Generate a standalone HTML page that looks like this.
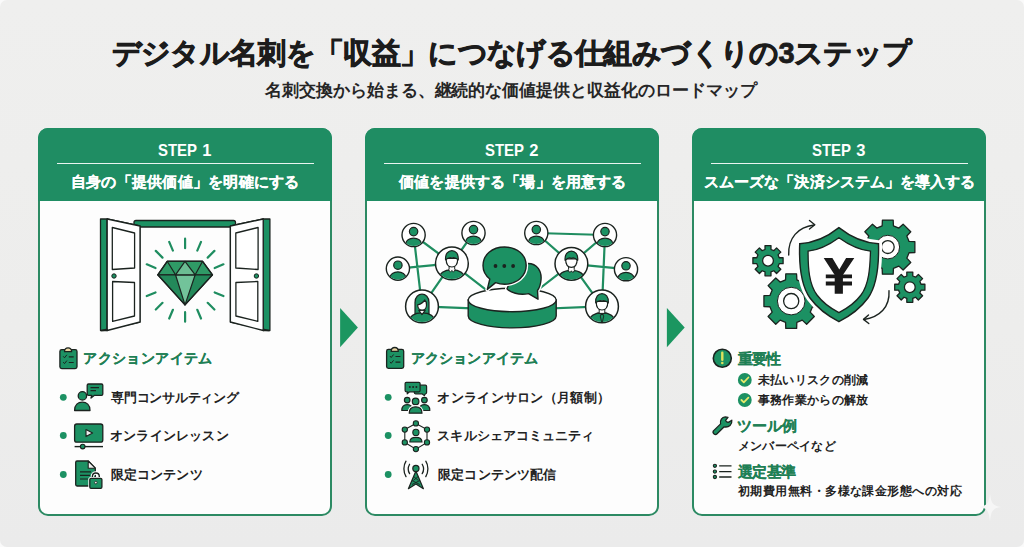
<!DOCTYPE html>
<html><head><meta charset="utf-8"><style>
html{background:#fafafa;}html,body{margin:0;padding:0;}
body{width:1024px;height:547px;position:relative;overflow:hidden;border-radius:7px;background:linear-gradient(180deg,#efefee 0%,#ededec 60%,#ebebeb 100%);font-family:"Liberation Sans",sans-serif;}
.t{position:absolute;white-space:nowrap;}
.card{position:absolute;top:128px;width:294px;height:388px;box-sizing:border-box;border:2.3px solid #2c8a63;border-radius:10px;background:#fdfdfd;}
.hdr{position:absolute;top:128px;width:294px;height:73px;background:#1f8d63;border-radius:10px 10px 0 0;}
.div{position:absolute;top:163px;height:1.4px;background:rgba(255,255,255,0.9);}
svg{position:absolute;left:0;top:0;}
</style></head><body>
<div class="card" style="left:38px"></div><div class="hdr" style="left:38px"></div><div class="div" style="left:57px;width:257px"></div>
<div class="card" style="left:365px"></div><div class="hdr" style="left:365px"></div><div class="div" style="left:384px;width:257px"></div>
<div class="card" style="left:692px"></div><div class="hdr" style="left:692px"></div><div class="div" style="left:711px;width:257px"></div>

<svg width="1024" height="547" viewBox="0 0 1024 547">
<g stroke="#1b231f" stroke-width="1.3" stroke-linejoin="round">
<rect x="134" y="220.5" width="101.5" height="6.5" rx="2" fill="#1c9163"/>
<polygon points="100.5,219 107.2,219 107.2,330.5 100.5,330.5" fill="#1c9163"/>
<polygon points="107.2,219 140,226 140,322 101.5,330.5 107.2,330" fill="#fff"/>
<polygon points="107.2,219 140,226 140,322 107.2,330.5" fill="#fff"/>
<polygon points="112.3,227.5 134.6,233 134.6,268 112.3,269.5" fill="#fff"/>
<polygon points="112.6,281.5 134.5,282.5 134.5,316 112.6,321.3" fill="#fff"/>
<circle cx="114" cy="276" r="2.2" fill="#1c9163" stroke-width="1"/>
<polygon points="269.9,219 263.2,219 263.2,330.5 269.9,330.5" fill="#1c9163"/>
<polygon points="263.2,219 230.39999999999998,226 230.39999999999998,322 268.9,330.5 263.2,330" fill="#fff"/>
<polygon points="263.2,219 230.39999999999998,226 230.39999999999998,322 263.2,330.5" fill="#fff"/>
<polygon points="258.09999999999997,227.5 235.79999999999998,233 235.79999999999998,268 258.09999999999997,269.5" fill="#fff"/>
<polygon points="257.79999999999995,281.5 235.89999999999998,282.5 235.89999999999998,316 257.79999999999995,321.3" fill="#fff"/>
<circle cx="256.4" cy="276" r="2.2" fill="#1c9163" stroke-width="1"/>
</g>
<path d="M185.1 248.2L185.1 238.7M197.3 250.6L201.0 241.9M207.7 257.6L214.4 250.9M214.7 268.0L223.4 264.3M214.7 292.4L223.4 296.1M207.7 302.8L214.4 309.5M197.3 309.8L201.0 318.5M185.1 312.2L185.1 321.7M172.9 309.8L169.2 318.5M162.5 302.8L155.8 309.5M155.5 292.4L146.8 296.1M155.5 268.0L146.8 264.3M162.5 257.6L155.8 250.9M172.9 250.6L169.2 241.9" stroke="#1f8d60" stroke-width="2.2" stroke-linecap="round"/>
<g stroke="#1b231f" stroke-width="1.2" stroke-linejoin="round">
<polygon points="167.2,261.3 202.6,261.3 212.5,274.8 157.8,274.8" fill="#2f9a66"/>
<polygon points="157.8,274.8 212.5,274.8 185,304.9" fill="#23895a"/>
<polygon points="175.5,274.8 195.2,274.8 185,304.9" fill="#72c39a"/>
<polygon points="185,261.3 195.2,274.8 175.5,274.8" fill="#6cbd93"/>
<path d="M167.2 261.3L175.5 274.8M202.6 261.3L195.2 274.8" fill="none"/>
<polygon points="167.2,261.3 202.6,261.3 212.5,274.8 185,304.9 157.8,274.8" fill="none" stroke-width="1.4"/>
</g>
<path d="M413.6 235L451.9 263.4M413.6 235L422 306.4M397.9 268.6L451.9 263.4M473.5 233L451.9 263.4M451.9 263.4L422 306.4M451.9 263.4L512 310M422 306.4L512 310M536.3 233L605 235M536.3 233L571.4 263.8M605 235L571.4 263.8M605 235L602 306.4M571.4 263.8L626 269.2M571.4 263.8L602 306.4M571.4 263.8L512 310M602 306.4L512 310" stroke="#1f8d60" stroke-width="2.2"/>
<g stroke="#1b231f" stroke-width="1.4">
<path d="M468.2 300 L468.2 316 A44 11.9 0 0 0 556.2 316 L556.2 300 Z" fill="#1c9163"/>
<ellipse cx="512.2" cy="300" rx="44" ry="11.7" fill="#fff"/>
</g>
<g stroke="#1b231f" stroke-width="1.4" stroke-linejoin="round">
<path d="M528 263.5 C537 263.5 542 271 541 280 C540.5 285 539.5 288 537.5 290.5 L538 299.2 L528.5 293.6 C519 295.5 510 292.5 507 288.7 C511 280 517 263.5 528 263.5Z" fill="#1c9163" stroke="#fff" stroke-width="4"/>
<path d="M528 263.5 C537 263.5 542 271 541 280 C540.5 285 539.5 288 537.5 290.5 L538 299.2 L528.5 293.6 C519 295.5 510 292.5 507 288.7 C511 280 517 263.5 528 263.5Z" fill="#1c9163"/>
<path d="M504.6 247 C517 247 526.2 255 526.2 265.6 C526.2 276 517 284.2 504.6 284.2 C501.4 284.2 498.4 283.6 495.6 282.6 L487.3 289.4 L489.8 279 C485.4 275.6 483 270.8 483 265.6 C483 255 492 247 504.6 247Z" fill="#1c9163" stroke="#fff" stroke-width="4"/>
<path d="M504.6 247 C517 247 526.2 255 526.2 265.6 C526.2 276 517 284.2 504.6 284.2 C501.4 284.2 498.4 283.6 495.6 282.6 L487.3 289.4 L489.8 279 C485.4 275.6 483 270.8 483 265.6 C483 255 492 247 504.6 247Z" fill="#1c9163"/>
</g>
<g fill="#1b231f"><circle cx="495.5" cy="266" r="1.9"/><circle cx="504.3" cy="266" r="1.9"/><circle cx="513.1" cy="266" r="1.9"/></g>
<circle cx="413.6" cy="235" r="11.6" fill="#fff" stroke="#1b231f" stroke-width="1.4"/><clipPath id="c413"><circle cx="413.6" cy="235" r="10.9"/></clipPath><g clip-path="url(#c413)" stroke="#1b231f" stroke-width="1.2"><ellipse cx="413.6" cy="243.8" rx="7.8" ry="5.6" fill="#1c9163"/><circle cx="413.6" cy="231.6" r="4.2" fill="#1c9163"/></g>
<circle cx="473.5" cy="233" r="11.6" fill="#fff" stroke="#1b231f" stroke-width="1.4"/><clipPath id="c473"><circle cx="473.5" cy="233" r="10.9"/></clipPath><g clip-path="url(#c473)" stroke="#1b231f" stroke-width="1.2"><ellipse cx="473.5" cy="241.8" rx="7.8" ry="5.6" fill="#1c9163"/><circle cx="473.5" cy="229.6" r="4.2" fill="#1c9163"/></g>
<circle cx="397.9" cy="268.6" r="11.6" fill="#fff" stroke="#1b231f" stroke-width="1.4"/><clipPath id="c397"><circle cx="397.9" cy="268.6" r="10.9"/></clipPath><g clip-path="url(#c397)" stroke="#1b231f" stroke-width="1.2"><ellipse cx="397.9" cy="277.40000000000003" rx="7.8" ry="5.6" fill="#1c9163"/><circle cx="397.9" cy="265.20000000000005" r="4.2" fill="#1c9163"/></g>
<circle cx="536.3" cy="233" r="11.6" fill="#fff" stroke="#1b231f" stroke-width="1.4"/><clipPath id="c536"><circle cx="536.3" cy="233" r="10.9"/></clipPath><g clip-path="url(#c536)" stroke="#1b231f" stroke-width="1.2"><ellipse cx="536.3" cy="241.8" rx="7.8" ry="5.6" fill="#1c9163"/><circle cx="536.3" cy="229.6" r="4.2" fill="#1c9163"/></g>
<circle cx="605" cy="235" r="11.6" fill="#fff" stroke="#1b231f" stroke-width="1.4"/><clipPath id="c605"><circle cx="605" cy="235" r="10.9"/></clipPath><g clip-path="url(#c605)" stroke="#1b231f" stroke-width="1.2"><ellipse cx="605" cy="243.8" rx="7.8" ry="5.6" fill="#1c9163"/><circle cx="605" cy="231.6" r="4.2" fill="#1c9163"/></g>
<circle cx="626" cy="269.2" r="11.6" fill="#fff" stroke="#1b231f" stroke-width="1.4"/><clipPath id="c626"><circle cx="626" cy="269.2" r="10.9"/></clipPath><g clip-path="url(#c626)" stroke="#1b231f" stroke-width="1.2"><ellipse cx="626" cy="278.0" rx="7.8" ry="5.6" fill="#1c9163"/><circle cx="626" cy="265.8" r="4.2" fill="#1c9163"/></g>
<circle cx="451.9" cy="263.4" r="16.4" fill="#fff" stroke="#1b231f" stroke-width="1.5"/><clipPath id="c451"><circle cx="451.9" cy="263.4" r="15.7"/></clipPath><g clip-path="url(#c451)" stroke="#1b231f" stroke-width="1.2" stroke-linejoin="round"><path d="M437.9 280.4 C438.9 272.4 444.9 269.9 451.9 269.9 C458.9 269.9 464.9 272.4 465.9 280.4 Z" fill="#1c9163"/><rect x="449.09999999999997" y="265.9" width="5.6" height="4.5" fill="#fff" stroke-width="1"/><path d="M446.09999999999997 258.4 C446.09999999999997 264.9 448.29999999999995 267.0 451.9 267.0 C455.5 267.0 457.7 264.9 457.7 258.4 Z" fill="#fff"/><path d="M445.59999999999997 259.9 C444.29999999999995 247.59999999999997 459.5 247.59999999999997 458.2 259.9 C455.9 257.59999999999997 453.4 257.2 451.9 258.0 C450.4 257.2 447.9 257.59999999999997 445.59999999999997 259.9 Z" fill="#1c9163"/><path d="M448.4 269.4 L450.4 272.2 L451.9 270.4 L453.4 272.2 L455.4 269.4" fill="#fff" stroke-width="0.9"/></g>
<circle cx="422" cy="306.4" r="16.4" fill="#fff" stroke="#1b231f" stroke-width="1.5"/><clipPath id="c422"><circle cx="422" cy="306.4" r="15.7"/></clipPath><g clip-path="url(#c422)" stroke="#1b231f" stroke-width="1.2" stroke-linejoin="round"><path d="M415 314.4 L415 302.4 C415 291.4 429 291.4 429 302.4 L429 314.4 Z" fill="#1c9163"/><path d="M408 323.4 C409 315.4 415 312.9 422 312.9 C429 312.9 435 315.4 436 323.4 Z" fill="#1c9163"/><path d="M418.8 310.4 L422 314.59999999999997 L425.2 310.4Z" fill="#fff"/><path d="M417.7 304.9 C417.7 311.9 426.5 311.9 426.5 304.9 C426.5 302.4 425.8 300.59999999999997 424.8 299.9 C423.2 302.79999999999995 420.2 304.2 417.7 304.9Z" fill="#fff"/></g>
<circle cx="571.4" cy="263.8" r="16.4" fill="#fff" stroke="#1b231f" stroke-width="1.5"/><clipPath id="c571"><circle cx="571.4" cy="263.8" r="15.7"/></clipPath><g clip-path="url(#c571)" stroke="#1b231f" stroke-width="1.2" stroke-linejoin="round"><path d="M557.4 280.8 C558.4 272.8 564.4 270.3 571.4 270.3 C578.4 270.3 584.4 272.8 585.4 280.8 Z" fill="#1c9163"/><rect x="568.6" y="266.3" width="5.6" height="4.5" fill="#fff" stroke-width="1"/><path d="M565.6 258.8 C565.6 265.3 567.8 267.40000000000003 571.4 267.40000000000003 C575.0 267.40000000000003 577.1999999999999 265.3 577.1999999999999 258.8 Z" fill="#fff"/><path d="M565.1 260.3 C563.8 248.0 579.0 248.0 577.6999999999999 260.3 C575.4 258.0 572.9 257.6 571.4 258.40000000000003 C569.9 257.6 567.4 258.0 565.1 260.3 Z" fill="#1c9163"/><path d="M567.9 269.8 L569.9 272.6 L571.4 270.8 L572.9 272.6 L574.9 269.8" fill="#fff" stroke-width="0.9"/></g>
<circle cx="602" cy="306.4" r="16.4" fill="#fff" stroke="#1b231f" stroke-width="1.5"/><clipPath id="c602"><circle cx="602" cy="306.4" r="15.7"/></clipPath><g clip-path="url(#c602)" stroke="#1b231f" stroke-width="1.2" stroke-linejoin="round"><path d="M588 323.4 C589 315.4 595 312.9 602 312.9 C609 312.9 615 315.4 616 323.4 Z" fill="#1c9163"/><rect x="599.2" y="308.9" width="5.6" height="4.5" fill="#fff" stroke-width="1"/><path d="M596.2 301.4 C596.2 307.9 598.4 310.0 602 310.0 C605.6 310.0 607.8 307.9 607.8 301.4 Z" fill="#fff"/><path d="M595.7 302.9 C594.4 290.59999999999997 609.6 290.59999999999997 608.3 302.9 C606 300.59999999999997 603.5 300.2 602 301.0 C600.5 300.2 598 300.59999999999997 595.7 302.9 Z" fill="#1c9163"/><path d="M602 313.9 L600.2 315.9 L602 323.4 L603.8 315.9Z" fill="#1c9163" stroke-width="0.9"/><path d="M597.5 312.4 L602 314.9 L606.5 312.4" fill="none" stroke-width="0.9"/></g>
<g stroke="#1b231f" stroke-width="1.3" stroke-linejoin="round">
<path d="M779.21 257.73 L783.10 257.70 L783.10 263.70 L779.21 263.67 L778.03 266.53 L780.80 269.26 L776.56 273.50 L773.83 270.73 L770.97 271.91 L771.00 275.80 L765.00 275.80 L765.03 271.91 L762.17 270.73 L759.44 273.50 L755.20 269.26 L757.97 266.53 L756.79 263.67 L752.90 263.70 L752.90 257.70 L756.79 257.73 L757.97 254.87 L755.20 252.14 L759.44 247.90 L762.17 250.67 L765.03 249.49 L765.00 245.60 L771.00 245.60 L770.97 249.49 L773.83 250.67 L776.56 247.90 L780.80 252.14 L778.03 254.87Z" fill="#1c9163"/><circle cx="768" cy="260.7" r="5.4" fill="#fff"/>
<path d="M921.01 284.23 L924.90 284.20 L924.90 290.20 L921.01 290.17 L919.83 293.03 L922.60 295.76 L918.36 300.00 L915.63 297.23 L912.77 298.41 L912.80 302.30 L906.80 302.30 L906.83 298.41 L903.97 297.23 L901.24 300.00 L897.00 295.76 L899.77 293.03 L898.59 290.17 L894.70 290.20 L894.70 284.20 L898.59 284.23 L899.77 281.37 L897.00 278.64 L901.24 274.40 L903.97 277.17 L906.83 275.99 L906.80 272.10 L912.80 272.10 L912.77 275.99 L915.63 277.17 L918.36 274.40 L922.60 278.64 L919.83 281.37Z" fill="#1c9163"/><circle cx="909.8" cy="287.2" r="5.4" fill="#fff"/>
<path d="M812.47 295.46 L818.47 295.68 L818.47 306.52 L812.47 306.74 L810.22 312.15 L814.31 316.54 L806.64 324.21 L802.25 320.12 L796.84 322.37 L796.62 328.37 L785.78 328.37 L785.56 322.37 L780.15 320.12 L775.76 324.21 L768.09 316.54 L772.18 312.15 L769.93 306.74 L763.93 306.52 L763.93 295.68 L769.93 295.46 L772.18 290.05 L768.09 285.66 L775.76 277.99 L780.15 282.08 L785.56 279.83 L785.78 273.83 L796.62 273.83 L796.84 279.83 L802.25 282.08 L806.64 277.99 L814.31 285.66 L810.22 290.05Z" fill="#1c9163"/><circle cx="791.2" cy="301.1" r="13.8" fill="#fff" stroke-width="1"/><circle cx="791.2" cy="301.1" r="7.6" fill="#fff"/>
<path d="M909.07 241.46 L914.87 241.72 L914.87 252.48 L909.07 252.74 L906.82 258.15 L910.75 262.43 L903.13 270.05 L898.85 266.12 L893.44 268.37 L893.18 274.17 L882.42 274.17 L882.16 268.37 L876.75 266.12 L872.47 270.05 L864.85 262.43 L868.78 258.15 L866.53 252.74 L860.73 252.48 L860.73 241.72 L866.53 241.46 L868.78 236.05 L864.85 231.77 L872.47 224.15 L876.75 228.08 L882.16 225.83 L882.42 220.03 L893.18 220.03 L893.44 225.83 L898.85 228.08 L903.13 224.15 L910.75 231.77 L906.82 236.05Z" fill="#1c9163"/><circle cx="887.8" cy="247.1" r="11.8" fill="#fff" stroke-width="1"/><circle cx="887.8" cy="247.1" r="6.4" fill="#fff"/>
</g>
<path d="M838.9 227.6 C826 238 812 243 799.7 243.7 C799 262 800 284 810 298 C818 309 828 316 838.9 321.6 C850 316 860 309 868 298 C878 284 879 262 878.5 243.7 C866 243 852 238 838.9 227.6Z" fill="#fff" stroke="#fff" stroke-width="7"/>
<path d="M838.9 227.6 C826 238 812 243 799.7 243.7 C799 262 800 284 810 298 C818 309 828 316 838.9 321.6 C850 316 860 309 868 298 C878 284 879 262 878.5 243.7 C866 243 852 238 838.9 227.6Z" fill="#1c9163" stroke="#1b231f" stroke-width="1.4"/>
<path d="M838.9 237.7 C829 245 818 250 808.1 251.2 C808 268 809 284 817 295 C823 303 830 308 838.9 312.6 C848 308 855 303 861 295 C869 284 870 268 870.5 251.2 C860 250 849 245 838.9 237.7Z" fill="#fff" stroke="#1b231f" stroke-width="1.3"/>
<path d="M823.7 258 L832.4 258 L839.3 269.5 L846.1 258 L854.3 258 L842.9 275 L842.9 293.7 L834.7 293.7 L834.7 275 Z" fill="#1a1a1a"/>
<path d="M825.8 274.5 h26.2 v3.7 h-26.2Z M825.8 281.6 h26.2 v4 h-26.2Z" fill="#1a1a1a"/>
<g stroke="#1b231f" stroke-width="1.4" fill="none" stroke-linecap="round" stroke-linejoin="round">
<path d="M788.7 255 C788 238 798 227 814 225"/><path d="M809.5 220.5 L814.8 224.8 L809.5 229"/>
<path d="M889 290.8 C890 307 880 317 864 319.5"/><path d="M868.5 315 L863.5 319.4 L868.8 323.5"/>
</g>
<g stroke="#1b231f" stroke-width="1.3" stroke-linejoin="round"><rect x="59.9" y="349.7" width="17.1" height="18.9" rx="1.8" fill="#1c9163"/><path d="M64.5 351.7 C64.5 346.5 71.6 346.5 71.6 351.7 Z" fill="#e9d6a2"/></g><g stroke="#1b231f" stroke-width="1" fill="none"><path d="M63.199999999999996 356.3 l1.3 1.5 l2.4 -3"/><path d="M63.199999999999996 362.09999999999997 l1.3 1.5 l2.4 -3"/><path d="M68.8 356.8 H73.7 M68.8 362.5 H73.7" stroke-width="1.2"/></g>
<g stroke="#1b231f" stroke-width="1.3" stroke-linejoin="round"><rect x="386.6" y="349.4" width="17.1" height="18.9" rx="1.8" fill="#1c9163"/><path d="M391.20000000000005 351.4 C391.20000000000005 346.2 398.3 346.2 398.3 351.4 Z" fill="#e9d6a2"/></g><g stroke="#1b231f" stroke-width="1" fill="none"><path d="M389.90000000000003 356.0 l1.3 1.5 l2.4 -3"/><path d="M389.90000000000003 361.79999999999995 l1.3 1.5 l2.4 -3"/><path d="M395.5 356.5 H400.40000000000003 M395.5 362.2 H400.40000000000003" stroke-width="1.2"/></g>
<g stroke="#1b231f" stroke-width="1.3" stroke-linejoin="round"><path d="M88.5 384 H101.5 Q102.8 384 102.8 385.3 V394 Q102.8 395.3 101.5 395.3 H94.5 L91 398 L91.8 395.3 H88.5 Q87.2 395.3 87.2 394 V385.3 Q87.2 384 88.5 384Z" fill="#1c9163"/><path d="M90.5 387.6 H99 M90.5 390.6 H96" stroke-width="1.1"/><circle cx="82.4" cy="395.9" r="4.2" fill="#1c9163"/><path d="M74.6 410.5 C74.6 405 78 402.2 82.3 402.2 C86.6 402.2 90 405 90 410.5 Z" fill="#1c9163"/></g>
<g stroke="#1b231f" stroke-width="1.3" stroke-linejoin="round"><rect x="74.6" y="424" width="28.2" height="18.2" rx="2.2" fill="#1c9163"/><path d="M86 429.6 L86 436.6 L92.6 433.1Z" fill="#eee" stroke-width="1.1"/><path d="M74.6 446.6 H103" stroke-width="1.4"/><circle cx="82.7" cy="446.6" r="2.3" fill="#1c9163" stroke-width="1.1"/></g>
<g stroke="#1b231f" stroke-width="1.3" stroke-linejoin="round"><path d="M77 461 H88.2 L95.3 468.2 V484.6 Q95.3 486 94 486 H77 Q75.7 486 75.7 484.6 V462.4 Q75.7 461 77 461Z" fill="#1c9163"/><path d="M88.2 461 V468.2 H95.3Z" fill="#f2f2f2" stroke-width="1.1"/><path d="M80 471.8 H91 M80 475.4 H90 M80 479 H88" stroke-width="1.2"/><path d="M92.4 478.6 V476.5 C92.4 471.8 99.3 471.8 99.3 476.5 V478.6" fill="none" stroke="#fff" stroke-width="3.4"/><path d="M92.4 478.6 V476.5 C92.4 471.8 99.3 471.8 99.3 476.5 V478.6" fill="none" stroke-width="1.4"/><rect x="89.8" y="478.4" width="12.1" height="9.9" rx="1.2" fill="#1c9163" stroke="#fff" stroke-width="3"/><rect x="89.8" y="478.4" width="12.1" height="9.9" rx="1.2" fill="#1c9163"/><circle cx="95.8" cy="482.6" r="1.3" fill="#eee" stroke-width="0.8"/></g>
<g stroke="#1b231f" stroke-width="1.2" stroke-linejoin="round"><path d="M415.5 385.2 H425.4 Q426.6 385.2 426.6 386.4 V392.6 Q426.6 393.8 425.4 393.8 L424.3 395.6 L422 393.8 H415.5 Q414.3 393.8 414.3 392.6 V386.4 Q414.3 385.2 415.5 385.2Z" fill="#1c9163"/><path d="M406.3 382.3 H418.9 Q420.1 382.3 420.1 383.5 V390.6 Q420.1 391.8 418.9 391.8 H409.6 L407.2 393.8 L407.6 391.8 H406.3 Q405.1 391.8 405.1 390.6 V383.5 Q405.1 382.3 406.3 382.3Z" fill="#1c9163"/></g><g fill="#1b231f"><circle cx="409.8" cy="386.9" r="1"/><circle cx="413.1" cy="386.9" r="1"/><circle cx="416.4" cy="386.9" r="1"/></g><g stroke="#1b231f" stroke-width="1.2" stroke-linejoin="round" fill="#1c9163"><circle cx="407.2" cy="400.1" r="2.8"/><circle cx="424.4" cy="400.1" r="2.8"/><path d="M401.8 410.5 C401.8 406.5 404 404.6 407.2 404.6 C410.4 404.6 412.6 406.5 412.6 410.5Z"/><path d="M419 410.5 C419 406.5 421.2 404.6 424.4 404.6 C427.6 404.6 429.8 406.5 429.8 410.5Z"/><circle cx="415.6" cy="401.4" r="3.3" fill="#1c9163" stroke="#fff" stroke-width="3"/><circle cx="415.6" cy="401.4" r="3.3"/><path d="M409.2 413.2 C409.2 409 411.8 406.8 415.6 406.8 C419.4 406.8 422 409 422 413.2Z" stroke="#fff" stroke-width="3"/><path d="M409.2 413.2 C409.2 409 411.8 406.8 415.6 406.8 C419.4 406.8 422 409 422 413.2Z"/></g>
<polygon points="415.9,423.4 427,429.6 427,442.4 415.9,449.1 404.8,442.4 404.8,429.6" fill="none" stroke="#1b231f" stroke-width="1.1"/>
<g fill="#1c9163" stroke="#1b231f" stroke-width="1.1"><circle cx="415.9" cy="423.4" r="2.6"/><circle cx="427" cy="429.6" r="2.6"/><circle cx="427" cy="442.4" r="2.6"/><circle cx="415.9" cy="449.1" r="2.6"/><circle cx="404.8" cy="442.4" r="2.6"/><circle cx="404.8" cy="429.6" r="2.6"/><circle cx="415.9" cy="432.4" r="3.1"/><path d="M409.8 442 C409.8 439 411.8 437.4 415.9 437.4 C420 437.4 422 439 422 442Z"/></g>
<g stroke="#1b231f" stroke-width="1.3" fill="none" stroke-linecap="round"><path d="M409.6 464.2 C408 467 408 471 409.6 473.6 M422.2 464.2 C423.8 467 423.8 471 422.2 473.6"/><path d="M406 461.2 C403.2 465.5 403.2 472 406 476.6 M425.8 461.2 C428.6 465.5 428.6 472 425.8 476.6"/></g><g stroke="#1b231f" stroke-width="1.2" stroke-linejoin="round"><path d="M415.9 471 L408.4 488.7 L415.9 484 L423.4 488.7Z" fill="#1c9163"/><path d="M413.6 476.5 L418.4 480.5 M418.2 476.5 L413.4 480.5 M412 480.5 L419.8 484.5 M419.8 480.5 L412 484.5" stroke-width="0.9" fill="none"/><circle cx="415.9" cy="468.5" r="3.1" fill="#1c9163"/></g>
<circle cx="722.3" cy="358.3" r="9" fill="#1c9163" stroke="#1b231f" stroke-width="1.6"/><path d="M722.3 352.8 V359.8" stroke="#dfe15c" stroke-width="2.4" stroke-linecap="round"/><circle cx="722.3" cy="363" r="1.3" fill="#dfe15c"/>
<circle cx="744.8" cy="379.9" r="6.9" fill="#1c9163"/><path d="M741.4 379.9 L743.8 382.29999999999995 L748.4 377.5" stroke="#e6ea6a" stroke-width="1.8" fill="none" stroke-linecap="round" stroke-linejoin="round"/>
<circle cx="744.8" cy="400" r="6.9" fill="#1c9163"/><path d="M741.4 400 L743.8 402.4 L748.4 397.6" stroke="#e6ea6a" stroke-width="1.8" fill="none" stroke-linecap="round" stroke-linejoin="round"/>
<path d="M713.4 430.9 L720.6 423.9 C719.8 420.4 721.9 417 725.2 416.9 L728 417.3 L725.6 420.4 Q726.4 422.8 728.8 422.1 L731.8 420.2 C732.4 424.4 729 427.8 724.2 426.8 L716.8 434 C715.4 435.4 712 433.6 713.4 430.9Z" fill="#1c9163" stroke="#1b231f" stroke-width="1.3" stroke-linejoin="round"/>
<g stroke="#1b231f" stroke-width="1.1"><path d="M719.2 465.8 H731.5 M719.2 471.6 H731.5 M719.2 477 H731.5" stroke-width="1.3"/><circle cx="714.9" cy="465.8" r="1.6" fill="#1c9163"/><circle cx="714.9" cy="471.6" r="1.6" fill="#1c9163"/><circle cx="714.9" cy="477" r="1.6" fill="#1c9163"/></g>
<circle cx="63.3" cy="397.3" r="3.4" fill="#1c9163"/>
<circle cx="63.3" cy="435.5" r="3.4" fill="#1c9163"/>
<circle cx="63.3" cy="474.5" r="3.4" fill="#1c9163"/>
<circle cx="388.2" cy="397.3" r="3.4" fill="#1c9163"/>
<circle cx="388.2" cy="435.5" r="3.4" fill="#1c9163"/>
<circle cx="388.2" cy="474.5" r="3.4" fill="#1c9163"/>
<polygon points="340.1,308 340.1,347.2 357.9,327.6" fill="#1b9660"/>
<polygon points="666.9,308 666.9,347.2 684.7,327.6" fill="#1b9660"/>
<path d="M990 493.5 C991 503 993 506 1001 507 C993 508 991 511 990 521.5 C989 511 987 508 979 507 C987 506 989 503 990 493.5Z" fill="#f6f6f6"/>
</svg>
<div class="t" style="left:111.5px;top:39.1px;font-size:29px;line-height:29px;font-weight:bold;letter-spacing:-0.65px;color:#1c1c1c;-webkit-text-stroke:0.8px #1c1c1c;">デジタル名刺を「収益」につなげる仕組みづくりの3ステップ</div>
<div class="t" style="left:265.0px;top:81.8px;font-size:17px;line-height:17px;font-weight:bold;letter-spacing:-0.05px;color:#262626;-webkit-text-stroke:0px #262626;">名刺交換から始まる、継続的な価値提供と収益化のロードマップ</div>
<div class="t" style="left:158px;top:141.5px;font-size:16.5px;line-height:16.5px;font-weight:bold;color:#fff;transform:scaleX(0.905);transform-origin:0 0">STEP</div>
<div class="t" style="left:202.2px;top:141.5px;font-size:16.5px;line-height:16.5px;font-weight:bold;color:#fff">1</div>
<div class="t" style="left:485px;top:141.5px;font-size:16.5px;line-height:16.5px;font-weight:bold;color:#fff;transform:scaleX(0.905);transform-origin:0 0">STEP</div>
<div class="t" style="left:529.2px;top:141.5px;font-size:16.5px;line-height:16.5px;font-weight:bold;color:#fff">2</div>
<div class="t" style="left:812px;top:141.5px;font-size:16.5px;line-height:16.5px;font-weight:bold;color:#fff;transform:scaleX(0.905);transform-origin:0 0">STEP</div>
<div class="t" style="left:856.2px;top:141.5px;font-size:16.5px;line-height:16.5px;font-weight:bold;color:#fff">3</div>
<div class="t" style="left:70.9px;top:174.3px;font-size:15px;line-height:15px;font-weight:bold;letter-spacing:0.25px;color:#ffffff;-webkit-text-stroke:0.2px #ffffff;">自身の「提供価値」を明確にする</div>
<div class="t" style="left:399.2px;top:174.3px;font-size:15px;line-height:15px;font-weight:bold;letter-spacing:0.15px;color:#ffffff;-webkit-text-stroke:0.2px #ffffff;">価値を提供する「場」を用意する</div>
<div class="t" style="left:704.2px;top:174.3px;font-size:15px;line-height:15px;font-weight:bold;letter-spacing:0.05px;color:#ffffff;-webkit-text-stroke:0.2px #ffffff;">スムーズな「決済システム」を導入する</div>
<div class="t" style="left:83.3px;top:350.5px;font-size:14px;line-height:14px;font-weight:bold;letter-spacing:0.4px;color:#1f8055;-webkit-text-stroke:0.2px #1f8055;">アクションアイテム</div>
<div class="t" style="left:410.6px;top:350.5px;font-size:14px;line-height:14px;font-weight:bold;letter-spacing:0.2px;color:#1f8055;-webkit-text-stroke:0.2px #1f8055;">アクションアイテム</div>
<div class="t" style="left:738.0px;top:352.0px;font-size:14.5px;line-height:14.5px;font-weight:bold;letter-spacing:-0.9px;color:#1f8055;-webkit-text-stroke:0.2px #1f8055;">重要性</div>
<div class="t" style="left:737.4px;top:418.8px;font-size:14.5px;line-height:14.5px;font-weight:bold;letter-spacing:-0.25px;color:#1f8055;-webkit-text-stroke:0.2px #1f8055;">ツール例</div>
<div class="t" style="left:738.0px;top:464.8px;font-size:14.5px;line-height:14.5px;font-weight:bold;letter-spacing:-0.75px;color:#1f8055;-webkit-text-stroke:0.2px #1f8055;">選定基準</div>
<div class="t" style="left:111.0px;top:390.9px;font-size:13px;line-height:13px;font-weight:bold;letter-spacing:-0.25px;color:#222222;-webkit-text-stroke:0px #222222;">専門コンサルティング</div>
<div class="t" style="left:110.0px;top:428.9px;font-size:13px;line-height:13px;font-weight:bold;letter-spacing:0.2px;color:#222222;-webkit-text-stroke:0px #222222;">オンラインレッスン</div>
<div class="t" style="left:111.0px;top:468.2px;font-size:13px;line-height:13px;font-weight:bold;letter-spacing:0.1px;color:#222222;-webkit-text-stroke:0px #222222;">限定コンテンツ</div>
<div class="t" style="left:437.4px;top:390.9px;font-size:13px;line-height:13px;font-weight:bold;letter-spacing:0.3px;color:#222222;-webkit-text-stroke:0px #222222;">オンラインサロン（月額制）</div>
<div class="t" style="left:437.4px;top:428.8px;font-size:13px;line-height:13px;font-weight:bold;letter-spacing:0.1px;color:#222222;-webkit-text-stroke:0px #222222;">スキルシェアコミュニティ</div>
<div class="t" style="left:438.4px;top:468.1px;font-size:13px;line-height:13px;font-weight:bold;letter-spacing:0.05px;color:#222222;-webkit-text-stroke:0px #222222;">限定コンテンツ配信</div>
<div class="t" style="left:757.6px;top:373.9px;font-size:12px;line-height:12px;font-weight:bold;letter-spacing:0.35px;color:#222222;-webkit-text-stroke:0px #222222;">未払いリスクの削減</div>
<div class="t" style="left:757.6px;top:393.6px;font-size:12px;line-height:12px;font-weight:bold;letter-spacing:0.35px;color:#222222;-webkit-text-stroke:0px #222222;">事務作業からの解放</div>
<div class="t" style="left:737.9px;top:439.5px;font-size:12px;line-height:12px;font-weight:bold;letter-spacing:0.25px;color:#222222;-webkit-text-stroke:0px #222222;">メンバーペイなど</div>
<div class="t" style="left:738.0px;top:485.1px;font-size:12px;line-height:12px;font-weight:bold;letter-spacing:0.45px;color:#222222;-webkit-text-stroke:0px #222222;">初期費用無料・多様な課金形態への対応</div>
</body></html>
